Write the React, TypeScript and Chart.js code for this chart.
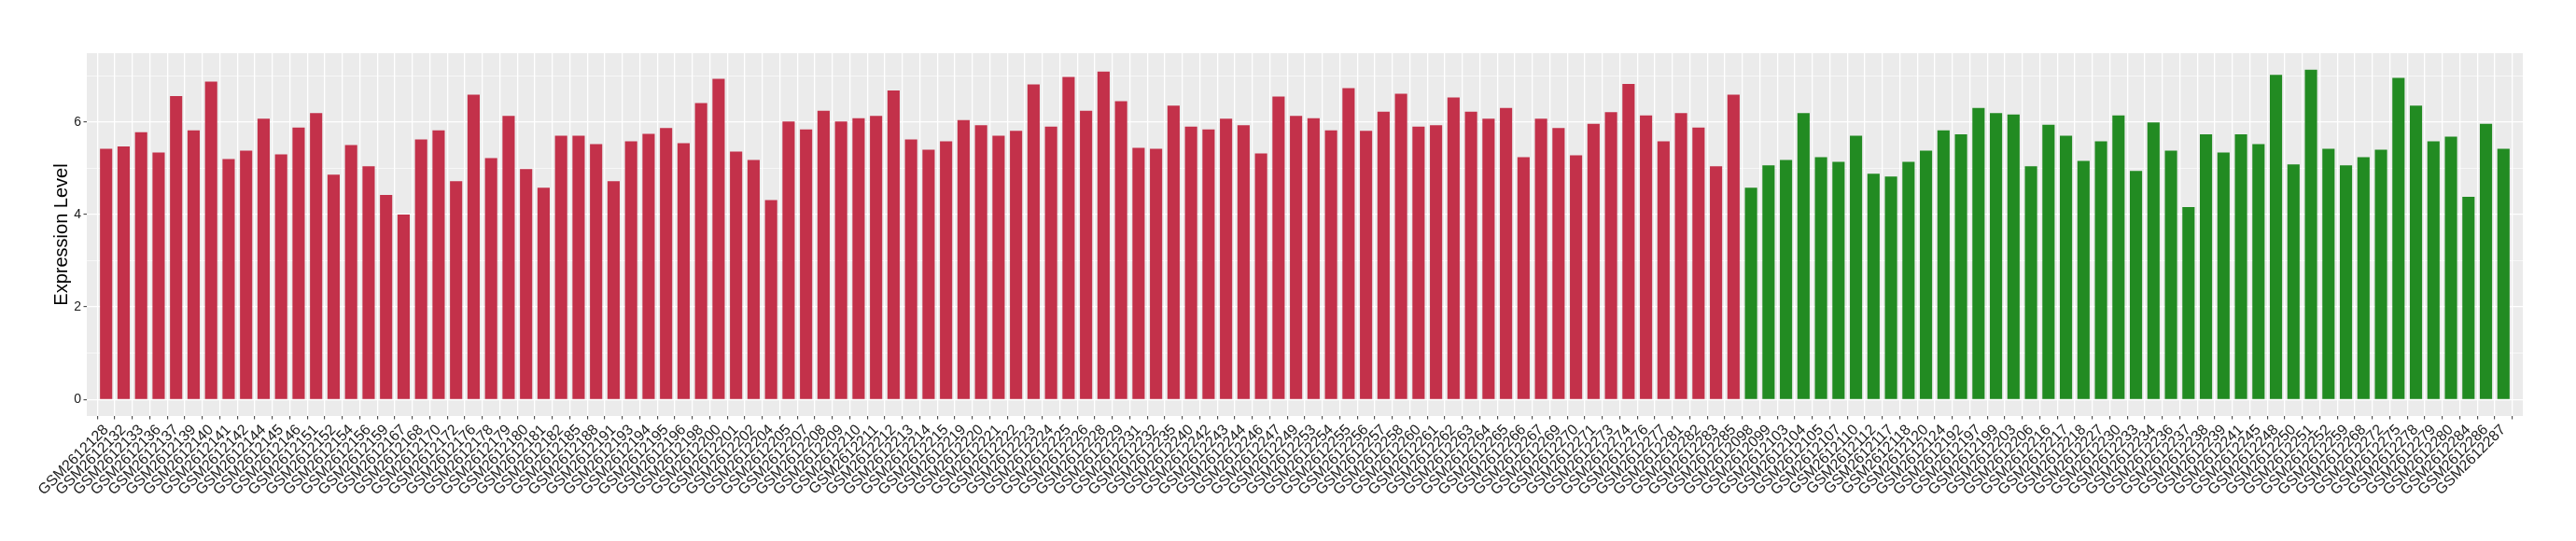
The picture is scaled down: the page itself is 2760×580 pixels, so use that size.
import React, { useEffect, useRef } from "react";
import { Chart, registerables } from "chart.js";

Chart.register(...registerables);

const tumorSamples = [
  "GSM2612128","GSM2612132","GSM2612133","GSM2612136","GSM2612137","GSM2612139","GSM2612140","GSM2612141","GSM2612142","GSM2612144",
  "GSM2612145","GSM2612146","GSM2612151","GSM2612152","GSM2612154","GSM2612156","GSM2612159","GSM2612167","GSM2612168","GSM2612170",
  "GSM2612172","GSM2612176","GSM2612178","GSM2612179","GSM2612180","GSM2612181","GSM2612182","GSM2612185","GSM2612188","GSM2612191",
  "GSM2612193","GSM2612194","GSM2612195","GSM2612196","GSM2612198","GSM2612200","GSM2612201","GSM2612202","GSM2612204","GSM2612205",
  "GSM2612207","GSM2612208","GSM2612209","GSM2612210","GSM2612211","GSM2612212","GSM2612213","GSM2612214","GSM2612215","GSM2612219",
  "GSM2612220","GSM2612221","GSM2612222","GSM2612223","GSM2612224","GSM2612225","GSM2612226","GSM2612228","GSM2612229","GSM2612231",
  "GSM2612232","GSM2612235","GSM2612240","GSM2612242","GSM2612243","GSM2612244","GSM2612246","GSM2612247","GSM2612249","GSM2612253",
  "GSM2612254","GSM2612255","GSM2612256","GSM2612257","GSM2612258","GSM2612260","GSM2612261","GSM2612262","GSM2612263","GSM2612264",
  "GSM2612265","GSM2612266","GSM2612267","GSM2612269","GSM2612270","GSM2612271","GSM2612273","GSM2612274","GSM2612276","GSM2612277",
  "GSM2612281","GSM2612282","GSM2612283","GSM2612285",
];

const tumorValues = [
  5.42, 5.47, 5.78, 5.34, 6.56, 5.82, 6.87, 5.20, 5.38, 6.07,
  5.30, 5.88, 6.19, 4.86, 5.50, 5.04, 4.42, 4.00, 5.62, 5.82,
  4.72, 6.59, 5.22, 6.13, 4.98, 4.58, 5.70, 5.70, 5.52, 4.72,
  5.58, 5.74, 5.87, 5.54, 6.41, 6.93, 5.36, 5.18, 4.31, 6.01,
  5.84, 6.24, 6.01, 6.08, 6.13, 6.68, 5.62, 5.40, 5.58, 6.04,
  5.93, 5.70, 5.81, 6.81, 5.90, 6.97, 6.24, 7.09, 6.45, 5.44,
  5.42, 6.35, 5.90, 5.84, 6.07, 5.93, 5.32, 6.55, 6.13, 6.08,
  5.82, 6.73, 5.81, 6.22, 6.61, 5.90, 5.93, 6.53, 6.22, 6.07,
  6.30, 5.24, 6.07, 5.87, 5.28, 5.96, 6.21, 6.82, 6.14, 5.58,
  6.19, 5.88, 5.04, 6.59,
];

const normalSamples = [
  "GSM2612098","GSM2612099","GSM2612103","GSM2612104","GSM2612105","GSM2612107","GSM2612110","GSM2612112","GSM2612117","GSM2612118",
  "GSM2612120","GSM2612124","GSM2612192","GSM2612197","GSM2612199","GSM2612203","GSM2612206","GSM2612216","GSM2612217","GSM2612218",
  "GSM2612227","GSM2612230","GSM2612233","GSM2612234","GSM2612236","GSM2612237","GSM2612238","GSM2612239","GSM2612241","GSM2612245",
  "GSM2612248","GSM2612250","GSM2612251","GSM2612252","GSM2612259","GSM2612268","GSM2612272","GSM2612275","GSM2612278","GSM2612279",
  "GSM2612280","GSM2612284","GSM2612286","GSM2612287",
];

const normalValues = [
  4.58, 5.06, 5.18, 6.19, 5.24, 5.14, 5.70, 4.88, 4.82, 5.14,
  5.38, 5.82, 5.73, 6.30, 6.19, 6.16, 5.04, 5.94, 5.70, 5.16,
  5.58, 6.14, 4.94, 5.99, 5.38, 4.16, 5.73, 5.34, 5.73, 5.52,
  7.02, 5.08, 7.13, 5.42, 5.06, 5.24, 5.40, 6.95, 6.35, 5.58,
  5.68, 4.38, 5.96, 5.42,
];

const yTickValues = [0, 1, 2, 3, 4, 5, 6, 7];
const yMajorTicks = [0, 2, 4, 6];

const TUMOR_COLOR = "#C3314A";
const NORMAL_COLOR = "#228B22";
const FONT = "'Liberation Sans', Arial, Helvetica, sans-serif";

export default function App() {
  const canvasRef = useRef<HTMLCanvasElement | null>(null);

  useEffect(() => {
    document.body.style.margin = "0";
    document.body.style.overflow = "hidden";
    const canvas = canvasRef.current;
    if (!canvas) return;

    const labels = [...tumorSamples, ...normalSamples];
    const values = [...tumorValues, ...normalValues];
    const colors = [
      ...tumorValues.map(() => TUMOR_COLOR),
      ...normalValues.map(() => NORMAL_COLOR),
    ];
    const points = values.map((v, i) => ({ x: i, y: v }));
    const n = labels.length;
    const maxVal = Math.max(...values);
    const yPad = maxVal * 0.05;

    const panelBg = {
      id: "panelBg",
      beforeDraw(chart: any) {
        const { ctx, chartArea } = chart;
        ctx.save();
        ctx.fillStyle = "#EBEBEB";
        ctx.fillRect(chartArea.left, chartArea.top, chartArea.right - chartArea.left, chartArea.bottom - chartArea.top);
        ctx.restore();
      },
    };

    const chart = new Chart(canvas, {
      type: "bar",
      data: {
        datasets: [
          {
            data: points,
            backgroundColor: colors,
            borderWidth: 0,
            barPercentage: 0.7,
            categoryPercentage: 1,
          },
        ],
      },
      options: {
        responsive: false,
        animation: false,
        devicePixelRatio: 1,
        layout: { padding: { left: 0, top: 57, right: 57, bottom: 0 } },
        plugins: {
          legend: { display: false },
          tooltip: { enabled: false },
        },
        scales: {
          x: {
            type: "linear",
            min: -0.6,
            max: n - 1 + 0.6,
            afterBuildTicks: (axis: any) => {
              axis.ticks = labels.map((_, i) => ({ value: i }));
            },
            afterFit: (axis: any) => {
              axis.height = 134;
            },
            border: { display: false },
            grid: {
              color: "#FFFFFF",
              lineWidth: 1.3,
              drawTicks: true,
              tickLength: 3.5,
              tickColor: "#333333",
              tickWidth: 1,
            },
            ticks: {
              autoSkip: false,
              maxRotation: 45,
              minRotation: 45,
              padding: 2,
              labelOffset: 0,
              color: "#1A1A1A",
              font: { family: FONT, size: 16 },
              callback: (value: any) => labels[value as number] ?? "",
            },
          },
          y: {
            type: "linear",
            min: -yPad,
            max: maxVal + yPad,
            afterBuildTicks: (axis: any) => {
              axis.ticks = yTickValues.map((v) => ({ value: v }));
            },
            afterFit: (axis: any) => {
              axis.width = 93;
            },
            border: { display: false },
            grid: {
              color: "#FFFFFF",
              lineWidth: (ctx: any) => (yMajorTicks.includes(ctx.tick?.value) ? 1.3 : 0.6),
              drawTicks: true,
              tickLength: 3.5,
              tickColor: (ctx: any) => (yMajorTicks.includes(ctx.tick?.value) ? "#333333" : "rgba(0,0,0,0)"),
              tickWidth: 1,
            },
            ticks: {
              padding: 2.5,
              color: "#1A1A1A",
              font: { family: FONT, size: 14 },
              callback: (value: any) => (yMajorTicks.includes(value as number) ? String(value) : ""),
            },
            title: {
              display: true,
              text: "Expression Level",
              color: "#000000",
              font: { family: FONT, size: 20 },
              padding: { top: 54, bottom: 0 },
            },
          },
        },
      },
      plugins: [panelBg],
    } as any);

    return () => {
      chart.destroy();
    };
  }, []);

  return (
    <div style={{ width: 2760, height: 580, position: "relative", background: "#FFFFFF" }}>
      <canvas ref={canvasRef} width={2760} height={580} style={{ display: "block", width: 2760, height: 580 }} />
    </div>
  );
}
